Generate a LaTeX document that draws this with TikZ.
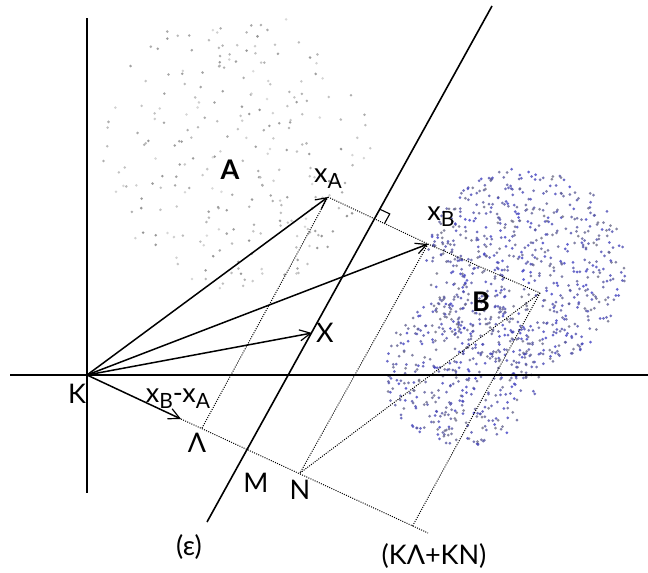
\documentclass[tikz,border=0pt]{standalone}
\usepackage{fontspec}
\setmainfont{Lato}
\usetikzlibrary{arrows.meta, calc}

\definecolor{cloudblue}{RGB}{60,60,200}
\definecolor{cloudgray}{RGB}{110,110,130}
\definecolor{cloudpale}{RGB}{110,110,110}

\newcommand{\lowidx}[1]{\raisebox{-0.45ex}{\fontsize{21}{21}\selectfont #1}}

\begin{document}
\begin{tikzpicture}[x=1pt, y=-1pt,
  axisline/.style={line width=1.6pt},
  vecarrow/.style={line width=1.5pt, -{Straight Barb[length=11pt,width=11pt,line width=1.2pt]}},
  projline/.style={line width=1pt, dash pattern=on 1pt off 1.3pt},
  txt/.style={font=\fontsize{27}{30}\selectfont, inner sep=0pt},
  bold/.style={font=\fontsize{27}{30}\selectfont\bfseries, inner sep=0pt}]

\useasboundingbox (0,0) rectangle (648,573);

% cloud A (sparse, grey)
\pgfmathsetseed{7}
\foreach \i in {1,...,260}{
  \pgfmathsetmacro{\ang}{360*rnd}
  \pgfmathsetmacro{\rad}{sqrt(rnd)}
  \pgfmathsetmacro{\shade}{int(25+50*rnd)}
  \fill[cloudpale!\shade!white] ({238+135*\rad*cos(\ang)},{150+140*\rad*sin(\ang)}) circle (1.4);
}

% cloud B (dense, blue)
\foreach \i in {1,...,700}{
  \pgfmathsetmacro{\ang}{360*rnd}
  \pgfmathsetmacro{\rad}{100*sqrt(rnd)}
  \pgfmathsetmacro{\mix}{int(100*rnd)}
  \fill[cloudblue!\mix!cloudgray, opacity=0.8] ({526+\rad*cos(\ang)},{268+\rad*sin(\ang)}) circle (1.5);
}
\foreach \i in {1,...,380}{
  \pgfmathsetmacro{\ang}{360*rnd}
  \pgfmathsetmacro{\rad}{sqrt(rnd)}
  \pgfmathsetmacro{\mix}{int(100*rnd)}
  \fill[cloudblue!\mix!cloudgray, opacity=0.8] ({462+78*\rad*cos(\ang)},{372+75*\rad*sin(\ang)}) circle (1.5);
}

% points
\coordinate (K) at (87,375);
\coordinate (xA) at (328,197);
\coordinate (xB) at (428,244);
\coordinate (X) at (312,333);
\coordinate (d) at (181,419);
\coordinate (Lam) at (202,428);
\coordinate (N) at (300,473);
\coordinate (S) at (412,527);
\coordinate (P) at (540,293);
\coordinate (lineEnd) at (428,533);
\coordinate (epsLow) at (207,522);
\coordinate (epsTop) at (492,6);
\coordinate (axL) at (10,375);
\coordinate (axR) at (648,375);
\coordinate (axT) at (87,18);
\coordinate (axB) at (87,493);
\coordinate (M) at (intersection of K--lineEnd and epsLow--epsTop);
\coordinate (I) at (intersection of xA--xB and epsLow--epsTop);

% axes and the line (epsilon)
\draw[axisline] (axL) -- (axR);
\draw[axisline] (axT) -- (axB);
\draw[axisline] (epsLow) -- (epsTop);

% projections
\draw[projline] (xA) -- (xB) -- (P);
\draw[projline] (d) -- (lineEnd);
\draw[projline] (xA) -- (Lam);
\draw[projline] (xB) -- (N);
\draw[projline] (P) -- (N);
\draw[projline] (P) -- (S);

% right angle
\coordinate (ra1) at ($(I)!11pt!(epsTop)$);
\coordinate (ra2) at ($(I)!11pt!(xB)$);
\coordinate (ra3) at ($(ra1)+(ra2)-(I)$);
\draw[line width=1.1pt] (ra1) -- (ra3) -- (ra2);

% vectors
\draw[vecarrow] (K) -- (xA);
\draw[vecarrow] (K) -- (xB);
\draw[vecarrow] (K) -- (X);
\draw[vecarrow] (K) -- (d);

% labels
\node[txt] (lblK) at (77,394) {K};
\node[txt] (lblD) at (178,399) {x\lowidx{B}-x\lowidx{A}};
\node[txt] (lblLam) at (197,443) {Λ};
\node[txt] (lblM) at (256,483) {M};
\node[txt] (lblN) at (300,490) {N};
\node[txt] (lblEps) at (189,547) {(ε)};
\node[txt] (lblSum) at (434,556) {(KΛ+KN)};
\node[txt] (lblxA) at (328,179) {x\lowidx{A}};
\node[txt] (lblxB) at (441,217) {x\lowidx{B}};
\node[txt] (lblX) at (325,333) {X};
\node[bold] (lblA) at (230,170) {A};
\node[bold] (lblB) at (481,302) {B};

\end{tikzpicture}
\end{document}
